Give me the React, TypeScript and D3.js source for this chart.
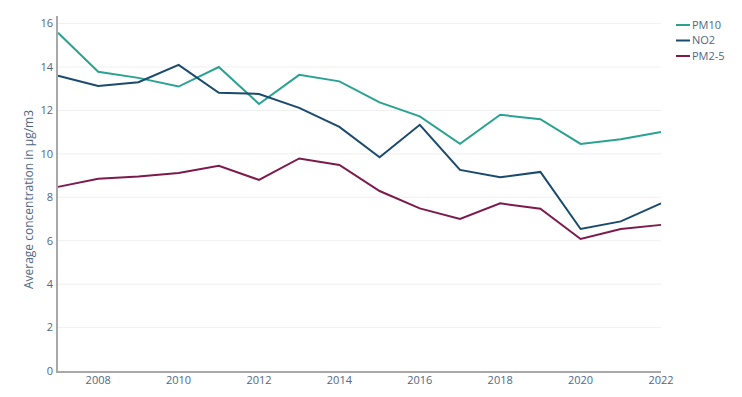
import * as React from 'react';
import * as d3 from 'd3';

const years = [2007, 2008, 2009, 2010, 2011, 2012, 2013, 2014, 2015, 2016, 2017, 2018, 2019, 2020, 2021, 2022];
const pm10 = [15.58, 13.78, 13.5, 13.1, 14.0, 12.3, 13.64, 13.34, 12.37, 11.73, 10.46, 11.8, 11.6, 10.46, 10.67, 11.01];
const no2 = [13.6, 13.13, 13.3, 14.1, 12.81, 12.76, 12.12, 11.24, 9.84, 11.34, 9.26, 8.92, 9.17, 6.54, 6.89, 7.72];
const pm25 = [8.48, 8.85, 8.96, 9.12, 9.45, 8.8, 9.79, 9.49, 8.29, 7.49, 7.0, 7.72, 7.47, 6.08, 6.54, 6.73];
const seriesNames = ['PM10', 'NO2', 'PM2-5'];
const yTicks = [0, 2, 4, 6, 8, 10, 12, 14, 16];
const xTicks = [2008, 2010, 2012, 2014, 2016, 2018, 2020, 2022];

const colors = ['#2aa290', '#1a4a6d', '#7d1a4c'];
const textColor = '#506784';
const font = '"Open Sans", sans-serif';

const App: React.FunctionComponent = () => {
    const ref = React.useRef<SVGSVGElement>(null);
    const width = 742;
    const height = 397;
    const left = 58;
    const right = 661;
    const top = 16;
    const bottom = 371;

    React.useEffect(() => {
        if (!ref.current) {
            return;
        }
        const svg = d3.select(ref.current);
        svg.selectAll('*').remove();

        const x = d3.scaleLinear().domain([2007, 2022]).range([left, right]);
        const y = d3.scaleLinear().domain([0, 16.35]).range([bottom, top]);

        // grid
        svg.append('g')
            .selectAll('line')
            .data(yTicks.filter(t => t > 0))
            .join('line')
            .attr('x1', left)
            .attr('x2', right)
            .attr('y1', d => y(d))
            .attr('y2', d => y(d))
            .attr('stroke', '#f0f0f0')
            .attr('stroke-width', 1);

        const all = [pm10, no2, pm25];
        const line = d3.line<number>()
            .x((d, i) => x(years[i]))
            .y(d => y(d));
        svg.append('g')
            .selectAll('path')
            .data(all)
            .join('path')
            .attr('d', d => line(d) as string)
            .attr('fill', 'none')
            .attr('stroke', (d, i) => colors[i])
            .attr('stroke-width', 2);

        // axes lines
        svg.append('line')
            .attr('x1', left - 1).attr('x2', left - 1)
            .attr('y1', top).attr('y2', bottom + 1)
            .attr('stroke', '#a8a8a8').attr('stroke-width', 2);
        svg.append('line')
            .attr('x1', left - 2).attr('x2', right)
            .attr('y1', bottom + 1).attr('y2', bottom + 1)
            .attr('stroke', '#a8a8a8').attr('stroke-width', 2);

        svg.append('g')
            .selectAll('text')
            .data(yTicks)
            .join('text')
            .attr('x', left - 5)
            .attr('y', d => y(d))
            .attr('dy', '0.35em')
            .attr('text-anchor', 'end')
            .attr('font-family', font)
            .attr('font-size', 11)
            .attr('fill', textColor)
            .text(d => d);

        svg.append('g')
            .selectAll('text')
            .data(xTicks)
            .join('text')
            .attr('x', d => x(d))
            .attr('y', bottom + 13)
            .attr('text-anchor', 'middle')
            .attr('font-family', font)
            .attr('font-size', 11)
            .attr('fill', textColor)
            .text(d => d);

        svg.append('text')
            .attr('transform', `translate(33,${(top + bottom) / 2 + 6}) rotate(-90)`)
            .attr('text-anchor', 'middle')
            .attr('font-family', font)
            .attr('font-size', 12)
            .attr('fill', textColor)
            .text('Average concentration in µg/m3');

        const legend = svg.append('g').attr('transform', 'translate(676,25)');
        const items = legend.selectAll('g')
            .data(seriesNames)
            .join('g')
            .attr('transform', (d, i) => `translate(0,${i * 15.5})`);
        items.append('line')
            .attr('x1', 0).attr('x2', 14)
            .attr('y1', 0).attr('y2', 0)
            .attr('stroke', (d, i) => colors[i])
            .attr('stroke-width', 2);
        items.append('text')
            .attr('x', 16)
            .attr('dy', '0.35em')
            .attr('font-family', font)
            .attr('font-size', 11)
            .attr('fill', textColor)
            .text(d => d);
    });

    return <svg ref={ref} width={width} height={height} style={{ position: 'absolute', left: 0, top: 0, background: '#fff' }} />;
};

export default App;
